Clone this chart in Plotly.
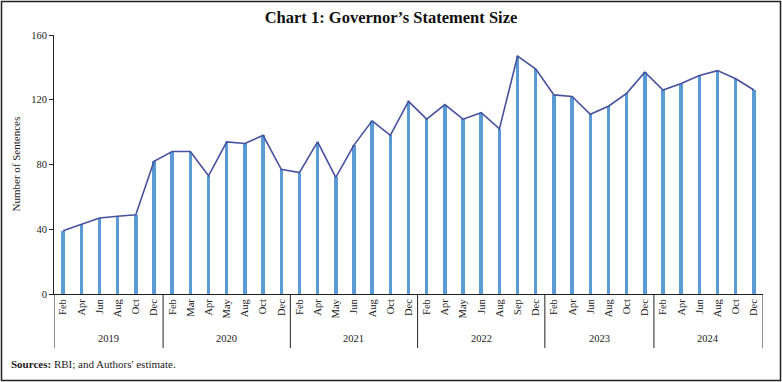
import plotly.graph_objects as go

year_labels = ["2019", "2020", "2021", "2022", "2023", "2024"]
months_by_year = [
    ["Feb", "Apr", "Jun", "Aug", "Oct", "Dec"],
    ["Feb", "Mar", "Apr", "May", "Aug", "Oct", "Dec"],
    ["Feb", "Apr", "May", "Jun", "Aug", "Oct", "Dec"],
    ["Feb", "Apr", "May", "Jun", "Aug", "Sep", "Dec"],
    ["Feb", "Apr", "Jun", "Aug", "Oct", "Dec"],
    ["Feb", "Apr", "Jun", "Aug", "Oct", "Dec"],
]
sentences = [
    39, 43, 47, 48, 49, 82,
    88, 88, 73, 94, 93, 98, 77,
    75, 94, 72, 92, 107, 98, 119,
    108, 117, 108, 112, 102, 147, 139,
    123, 122, 111, 116, 124, 137,
    126, 130, 135, 138, 133, 126,
]
y_ticks = [0, 40, 80, 120, 160]

months = [m for ms in months_by_year for m in ms]
xpos = list(range(len(months)))

W, H = 782, 382
ML, MR, MT, MB = 54, 19, 35, 88
PW, PH = W - ML - MR, H - MT - MB

def py(pix):  # pixel y -> paper y
    return (MT + PH - pix) / PH

def px(pix):
    return (pix - ML) / PW

serif = "Liberation Serif"
dark = "#222"

fig = go.Figure()
fig.add_trace(go.Bar(
    x=xpos, y=sentences, width=0.19,
    marker=dict(color="#5B9BD5", line=dict(width=0)),
    hoverinfo="skip", showlegend=False,
))
fig.add_trace(go.Scatter(
    x=xpos, y=sentences, mode="lines",
    line=dict(color="#46529E", width=1.6),
    hoverinfo="skip", showlegend=False,
))

shapes = []
annotations = []
start = 0
bounds = [-0.5]
for yl, ms in zip(year_labels, months_by_year):
    end = start + len(ms)
    bounds.append(end - 0.5)
    annotations.append(dict(
        text=yl, xref="x", yref="paper", x=(start + end - 1) / 2, y=py(338),
        xanchor="center", yanchor="middle", showarrow=False,
        font=dict(family=serif, size=10.5, color=dark),
    ))
    start = end
for b in bounds:
    shapes.append(dict(
        type="line", xref="x", yref="paper", x0=b, x1=b, y0=0, y1=py(348),
        line=dict(color=dark, width=1),
    ))

shapes.append(dict(
    type="rect", xref="paper", yref="paper",
    x0=px(1.5), x1=px(W - 1.5), y0=py(H - 1.5), y1=py(1.5),
    line=dict(color=dark, width=1.5), fillcolor="rgba(0,0,0,0)", layer="below",
))
annotations.append(dict(
    text="<b>Sources:</b> RBI; and Authors' estimate.",
    xref="paper", yref="paper", x=px(9), y=py(364),
    xanchor="left", yanchor="middle", showarrow=False,
    font=dict(family=serif, size=11, color=dark),
))
annotations.append(dict(
    text="Number of Sentences", xref="paper", yref="paper",
    x=px(15), y=0.5, textangle=-90, xanchor="center", yanchor="middle",
    showarrow=False, font=dict(family=serif, size=11, color=dark),
))

fig.update_layout(
    width=W, height=H,
    margin=dict(l=ML, r=MR, t=MT, b=MB, autoexpand=False),
    paper_bgcolor="white", plot_bgcolor="white",
    font=dict(family=serif, size=10, color=dark),
    title=dict(
        text="<b>Chart 1: Governor’s Statement Size</b>",
        x=0.5, xanchor="center", y=1 - 17 / H, yanchor="middle",
        font=dict(family=serif, size=16.5, color="#111"),
    ),
    bargap=0,
    xaxis=dict(
        tickmode="array", tickvals=xpos, ticktext=months,
        showline=True, linecolor=dark, linewidth=1,
        showgrid=False, zeroline=False, ticks="",
        tickangle=-90, automargin=False,
        tickfont=dict(family=serif, size=10.5, color=dark),
        range=[-0.5, len(months) - 0.5],
    ),
    yaxis=dict(
        range=[0, 160], tickvals=y_ticks,
        showline=True, linecolor=dark, linewidth=1,
        ticks="outside", ticklen=4, tickcolor=dark,
        showgrid=False, zeroline=False, automargin=False,
        tickfont=dict(family=serif, size=10.5, color=dark),
    ),
    shapes=shapes,
    annotations=annotations,
)

fig.write_html(
    "out.html",
    config={"displayModeBar": False},
    post_script="document.body.style.margin='0';document.body.style.overflow='hidden';",
)
